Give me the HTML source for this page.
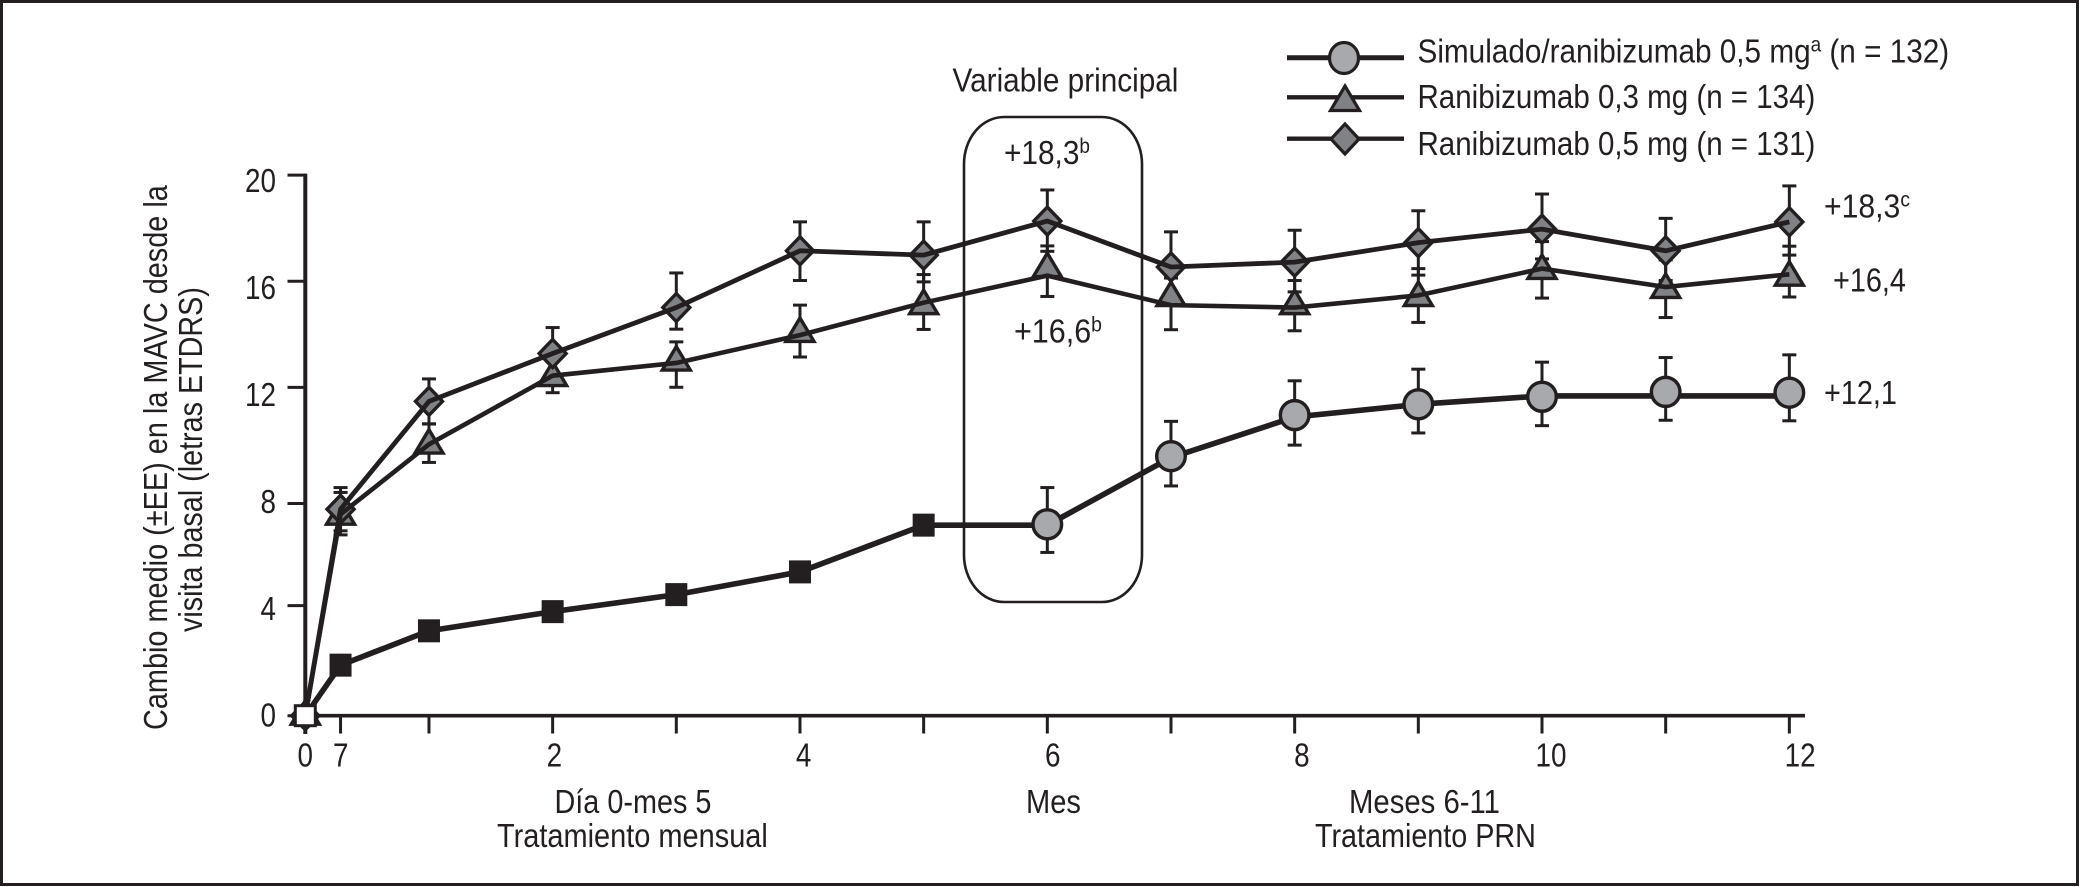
<!DOCTYPE html>
<html lang="es">
<head>
<meta charset="utf-8">
<title>Cambio medio de la MAVC</title>
<style>
  html, body { margin: 0; padding: 0; background: #fff; }
  svg { display: block; }
  text { font-family: "Liberation Sans", sans-serif; fill: #231f20; font-size: 33px; }
</style>
</head>
<body>
<svg id="chart" xmlns="http://www.w3.org/2000/svg" width="2080" height="887" viewBox="0 0 2080 887">
  <rect x="0" y="0" width="2080" height="887" fill="#fff"/>
  <rect x="1.5" y="1.5" width="2076" height="883" fill="none" stroke="#231f20" stroke-width="3"/>

  <rect x="964" y="117" width="178" height="485" rx="40" ry="47" fill="none" stroke="#231f20" stroke-width="2.6"/>
  <text class="fit" data-w="226" x="952.5" y="91.5">Variable principal</text>
  <text class="fit" data-w="86" x="1004" y="164">+18,3<tspan font-size="21" dy="-11">b</tspan></text>
  <text class="fit" data-w="88" x="1014" y="342.5">+16,6<tspan font-size="21" dy="-11">b</tspan></text>

  <g id="plot"></g>

  <text class="fit" data-w="86" x="1824" y="217.5">+18,3<tspan font-size="21" dy="-11">c</tspan></text>
  <text class="fit" data-w="73" x="1833" y="291.5">+16,4</text>
  <text class="fit" data-w="73" x="1824" y="404">+12,1</text>

  <g>
    <g>
      <line x1="1287" y1="57.7" x2="1404" y2="57.7" stroke="#231f20" stroke-width="5"/>
      <ellipse cx="1344" cy="58" rx="14.5" ry="15.5" fill="#a7a9ac" stroke="#231f20" stroke-width="3.2"/>
      <text class="fit" data-w="532" x="1417.5" y="62.5">Simulado/ranibizumab 0,5 mg<tspan font-size="21" dy="-11">a</tspan><tspan dy="11"> (n = 132)</tspan></text>
    </g>
    <g>
      <line x1="1287" y1="97.3" x2="1404" y2="97.3" stroke="#231f20" stroke-width="4.4"/>
      <polygon points="1345,86 1359.5,110.5 1330.5,110.5" fill="#808285" stroke="#231f20" stroke-width="3.2"/>
      <text class="fit" data-w="398" x="1417.5" y="108">Ranibizumab 0,3 mg (n = 134)</text>
    </g>
    <g>
      <line x1="1287" y1="138.7" x2="1404" y2="138.7" stroke="#231f20" stroke-width="4.4"/>
      <polygon points="1345,124 1359,139 1345,154 1331,139" fill="#808285" stroke="#231f20" stroke-width="3.2"/>
      <text class="fit" data-w="398" x="1417.5" y="155">Ranibizumab 0,5 mg (n = 131)</text>
    </g>
  </g>

  <g transform="rotate(-90)">
    <text class="fit" data-w="545" x="-730" y="167">Cambio medio (±EE) en la MAVC desde la</text>
    <text class="fit" data-w="345" x="-632" y="202">visita basal (letras ETDRS)</text>
  </g>

  <g>
    <text class="fit" data-w="157" x="554.5" y="813">Día 0-mes 5</text>
    <text class="fit" data-w="271" x="497" y="847">Tratamiento mensual</text>
    <text class="fit" data-w="55" x="1026" y="813">Mes</text>
    <text class="fit" data-w="151" x="1349" y="813">Meses 6-11</text>
    <text class="fit" data-w="221" x="1315" y="847">Tratamiento PRN</text>
  </g>
</svg>

<script>
// ---- chart data ----
const xCategories = [0, 0.285, 1, 2, 3, 4, 5, 6, 7, 8, 9, 10, 11, 12];
const xTickLabels = ["0", "7", "", "2", "", "4", "", "6", "", "8", "", "10", "", "12"];
const yTicks = [0, 4, 8, 12, 16, 20];

const shamValues = [0, 1.87, 3.14, 3.85, 4.48, 5.32, 7.05, 7.08, 9.6, 11.12, 11.52, 11.8, 11.98, 11.95];
const shamLineValues = [0, 1.87, 3.14, 3.85, 4.48, 5.32, 7.05, 7.05, 9.55, 11.05, 11.52, 11.83, 11.83, 11.83];
const shamErrUp = [0, 0, 0, 0, 0, 0, 0, 1.36, 1.29, 1.27, 1.3, 1.28, 1.27, 1.4];
const shamErrDown = [0, 0, 0, 0, 0, 0, 0, 1.04, 1.1, 1.11, 1.06, 1.07, 1.05, 1.04];

const rani03Values = [0, 7.4, 10.03, 12.53, 13.1, 14.16, 15.19, 16.56, 15.49, 15.19, 15.49, 16.49, 15.79, 16.24];
const rani03LineValues = [0, 7.45, 10.04, 12.58, 13.05, 14.08, 15.28, 16.28, 15.19, 15.1, 15.55, 16.54, 15.86, 16.33];
const rani03ErrUp = [0, 0.81, 0.76, 0.7, 0.78, 1.11, 1.04, 1.1, 1.0, 1.0, 0.99, 1.0, 1.0, 1.04];
const rani03ErrDown = [0, 0.76, 0.67, 0.63, 0.9, 0.81, 0.99, 0.77, 0.91, 0.86, 1.0, 1.09, 1.13, 0.84];

const rani05Values = [0, 7.64, 11.63, 13.4, 15.1, 17.2, 17.04, 18.3, 16.6, 16.78, 17.5, 18.0, 17.2, 18.27];
const rani05ErrUp = [0, 0.8, 0.83, 0.96, 1.28, 1.07, 1.23, 1.15, 1.3, 1.18, 1.18, 1.3, 1.2, 1.33];
const rani05ErrDown = [0, 0.8, 0.84, 0.96, 0.8, 1.1, 0.99, 1.12, 1.1, 1.1, 1.2, 1.1, 1.1, 1.23];

// ---- axis functions ----
const X0 = 305.3, MONTH_PX = 123.67, Y0 = 715.7, UNIT_PX = 27.03;
const xScale = function (m) { return X0 + m * MONTH_PX; };
const yScale = function (v) { return Y0 - v * UNIT_PX; };
// the printed axis has slightly uneven tick spacing
const tickY = function (v) {
  if (v === 16) return yScale(v) - 2;
  if (v === 12) return yScale(v) - 4;
  if (v === 8) return yScale(v) + 4;
  if (v === 4) return yScale(v) - 2;
  return yScale(v);
};

const INK = "#231f20";
const SVGNS = "http://www.w3.org/2000/svg";
const plot = document.getElementById("plot");

function mk(tag, attrs) {
  const n = document.createElementNS(SVGNS, tag);
  for (const k in attrs) n.setAttribute(k, attrs[k]);
  plot.appendChild(n);
  return n;
}
function fit(el, w) {
  const x = +el.getAttribute("x"), y = +el.getAttribute("y");
  const s = w / el.getComputedTextLength();
  el.setAttribute("transform", "translate(" + x + " " + y + ") scale(" + s + " 1) translate(" + (-x) + " " + (-y) + ")");
}

// axes
const yAxis = mk("line", { x1: X0, y1: yScale(20) - 1.5, x2: X0, y2: 734, stroke: INK, "stroke-width": 4 });


const xAxis = mk("line", { x1: X0, y1: Y0, x2: 1805, y2: Y0, stroke: INK, "stroke-width": 3.6 });



yTicks.forEach(function (v) {
  const tick = mk("line", { x1: 287.5, y1: tickY(v), x2: X0, y2: tickY(v), stroke: INK, "stroke-width": 3 });
  
  
  const label = mk("text", { x: 276, y: yScale(v) + 11 + v * 0.3, "text-anchor": "end" });
  label.textContent = String(v);
  
  
  fit(label, String(v).length * 15.5);
});

xCategories.forEach(function (m, i) {
  const tick = mk("line", { x1: xScale(m), y1: Y0, x2: xScale(m), y2: 733.5, stroke: INK, "stroke-width": 3 });
  
  
  if (xTickLabels[i]) {
    const label = mk("text", { x: xScale(m) + m * 0.9, y: 766.5, "text-anchor": "middle" });
    label.textContent = xTickLabels[i];
    
    
    fit(label, xTickLabels[i].length * 15.5);
  }
});

// error bars
function drawErrors(name, values, up, down) {
  values.forEach(function (v, i) {
    if (!up[i] && !down[i]) return;
    const x = xScale(xCategories[i]);
    const top = yScale(v + up[i]), bot = yScale(v - down[i]);
    const stem = mk("line", { x1: x, y1: top, x2: x, y2: bot, stroke: INK, "stroke-width": 3 });
    
    
    const capTop = mk("line", { x1: x - 7, y1: top, x2: x + 7, y2: top, stroke: INK, "stroke-width": 3 });
    
    
    const capBot = mk("line", { x1: x - 7, y1: bot, x2: x + 7, y2: bot, stroke: INK, "stroke-width": 3 });
    
    
  });
}
function pathOf(values) {
  return values.map(function (v, i) { return xScale(xCategories[i]) + "," + yScale(v); }).join(" ");
}

drawErrors("ranibizumab-05", rani05Values, rani05ErrUp, rani05ErrDown);
drawErrors("ranibizumab-03", rani03LineValues, rani03ErrUp, rani03ErrDown);
drawErrors("sham", shamValues, shamErrUp, shamErrDown);

// triangle markers
rani03Values.forEach(function (v, i) {
  const x = xScale(xCategories[i]), y = yScale(v);
  const pts = x + "," + (y - 15) + " " + (x + 14) + "," + (y + 8.5) + " " + (x - 14) + "," + (y + 8.5);
  const m = mk("polygon", { points: pts, fill: "#808285", stroke: INK, "stroke-width": 3.4 });
  
  
});
// diamond markers
rani05Values.forEach(function (v, i) {
  const x = xScale(xCategories[i]), y = yScale(v);
  const pts = x + "," + (y - 14) + " " + (x + 13.5) + "," + y + " " + x + "," + (y + 14) + " " + (x - 13.5) + "," + y;
  const m = mk("polygon", { points: pts, fill: "#808285", stroke: INK, "stroke-width": 3.4 });
  
  
});

// series lines (drawn over their markers, as in the figure)
const line03 = mk("polyline", { points: pathOf(rani03LineValues), fill: "none", stroke: INK, "stroke-width": 4.6, "stroke-linejoin": "miter" });


const line05 = mk("polyline", { points: pathOf(rani05Values), fill: "none", stroke: INK, "stroke-width": 4.8, "stroke-linejoin": "miter" });


const lineSham = mk("polyline", { points: pathOf(shamLineValues), fill: "none", stroke: INK, "stroke-width": 5.6, "stroke-linejoin": "miter" });



// sham markers: open square at baseline, filled squares to month 5, circles afterwards
shamValues.forEach(function (v, i) {
  const x = xScale(xCategories[i]), y = yScale(v);
  if (i === 0) {
    const s = mk("rect", { x: x - 10, y: y - 10, width: 20, height: 20, fill: "#fff", stroke: INK, "stroke-width": 3 });
    
    
  } else if (i <= 6) {
    const s = mk("rect", { x: x - 11, y: y - 11.5, width: 22, height: 23, fill: INK });
    
    
  } else {
    const c = mk("ellipse", { cx: x, cy: y, rx: 14.3, ry: 14.5, fill: "#a7a9ac", stroke: INK, "stroke-width": 3.4 });
    
    
  }
});

document.querySelectorAll("text.fit").forEach(function (el) {
  fit(el, +el.getAttribute("data-w"));
});
</script>
</body>
</html>
